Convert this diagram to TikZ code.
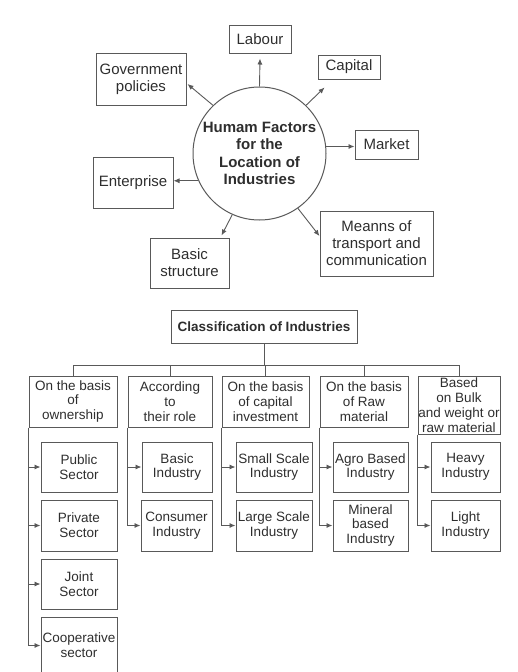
\documentclass[tikz,border=0pt]{standalone}
\usepackage{fontspec}
\setmainfont{Liberation Sans}
\usetikzlibrary{arrows.meta,calc}
\definecolor{linec}{gray}{0.35}
\definecolor{textc}{gray}{0.18}
\begin{document}
\begin{tikzpicture}[x=1pt,y=-1pt,
  box/.style={draw=linec, line width=1pt, inner sep=0pt, align=center, text=textc, font=\fontsize{15}{17}\selectfont},
  sbox/.style={draw=linec, line width=1pt, inner sep=0pt, align=center, text=textc, font=\fontsize{13.5}{14.8}\selectfont},
  sz/.style 2 args={minimum width=#1pt, minimum height=#2pt},
  arr/.style={draw=linec, line width=0.9pt, -{Latex[length=6pt,width=5pt]}},
  ln/.style={draw=linec, line width=0.9pt}]
\useasboundingbox (0,0) rectangle (517,672);
% ---------- top part ----------
\node[circle, draw=linec, line width=1pt, minimum size=133pt, inner sep=0pt, align=center, text=textc,
      font=\bfseries\fontsize{15}{17.2}\selectfont] (hub) at (259.5,153.5) {Humam Factors\\for the\\Location of\\Industries};
\node[box, sz={62}{28}] (labour) at (260,39) {Labour};
\node[box, sz={62}{24}] (capital) at (349,67) {Capital};
\node[box, sz={90}{52}] (govt) at (141,79) {Government\\policies};
\node[box, sz={63}{29}] (market) at (386.5,144.5) {Market};
\node[box, sz={80}{51}] (enterprise) at (133,182.5) {Enterprise};
\node[box, sz={79}{50}] (basic) at (189.5,263) {Basic\\structure};
\node[box, sz={113}{65}] (meanns) at (376.5,243.5) {Meanns of\\transport and\\communication};
\draw[arr] (hub.north) -- ([yshift=-5pt]labour.south);
\draw[arr] (hub.46) -- ([xshift=7pt,yshift=-8pt]capital.south west);
\draw[arr] (hub.134) -- ([xshift=1pt,yshift=-5pt]govt.east);
\draw[arr] (hub.6) -- (hub.6 -| market.west);
\draw[arr] (hub.204) -- (hub.204 -| enterprise.east);
\draw[arr] (hub.246) -- ([xshift=-8pt,yshift=2pt]basic.north east);
\draw[arr] (hub.-55) -- ([yshift=7.5pt]meanns.west);
% ---------- bottom part ----------
\node[sbox, sz={186}{33}, font=\bfseries\fontsize{13.5}{14.8}\selectfont] (title) at (264,326.5) {Classification of Industries};
\node[sbox, sz={88}{51}] (c1) at (73,401.5) {On the basis\\of\\ownership};
\node[sbox, sz={84}{51}] (c2) at (170,401.5) {According\\to\\their role};
\node[sbox, sz={87}{51}] (c3) at (265.5,401.5) {On the basis\\of capital\\investment};
\node[sbox, sz={88}{51}] (c4) at (364,401.5) {On the basis\\of Raw\\material};
\node[sbox, sz={82}{58}] (c5) at (459,405) {Based\\on Bulk\\and weight or\\raw material};
\foreach \c in {c1,c2,c3,c4,c5}
  \draw[ln] (title.south) -- ++(0,22) -| (\c.north);
% column 1
\node[sbox, sz={76}{50}] (pub) at (79,467) {Public\\Sector};
\node[sbox, sz={76}{51}] (pri) at (79,525.5) {Private\\Sector};
\node[sbox, sz={76}{50}] (joi) at (79,584) {Joint\\Sector};
\node[sbox, sz={76}{57}] (coo) at (79,645.5) {Cooperative\\sector};
\draw[ln] (c1.south west) -- (c1.south west |- coo.west);
\foreach \b in {pub,pri,joi,coo}
  \draw[arr] (c1.south west |- \b.west) -- (\b.west);
% column 2
\node[sbox, sz={70}{50}] (bas) at (177,467) {Basic\\Industry};
\node[sbox, sz={71}{51}] (con) at (176.5,525.5) {Consumer\\Industry};
\draw[ln] (c2.south west) -- (c2.south west |- con.west);
\foreach \b in {bas,con}
  \draw[arr] (c2.south west |- \b.west) -- (\b.west);
% column 3
\node[sbox, sz={76}{50}] (sma) at (274,467) {Small Scale\\Industry};
\node[sbox, sz={76}{51}] (lar) at (274,525.5) {Large Scale\\Industry};
\draw[ln] (c3.south west) -- (c3.south west |- lar.west);
\foreach \b in {sma,lar}
  \draw[arr] (c3.south west |- \b.west) -- (\b.west);
% column 4
\node[sbox, sz={75}{50}] (agr) at (370.5,467) {Agro Based\\Industry};
\node[sbox, sz={75}{51}] (min) at (370.5,525.5) {Mineral\\based\\Industry};
\draw[ln] (c4.south west) -- (c4.south west |- min.west);
\foreach \b in {agr,min}
  \draw[arr] (c4.south west |- \b.west) -- (\b.west);
% column 5
\node[sbox, sz={69}{50}] (hea) at (465.5,467) {Heavy\\Industry};
\node[sbox, sz={69}{51}] (lig) at (465.5,525.5) {Light\\Industry};
\draw[ln] (c5.south west) -- (c5.south west |- lig.west);
\foreach \b in {hea,lig}
  \draw[arr] (c5.south west |- \b.west) -- (\b.west);
\end{tikzpicture}
\end{document}
